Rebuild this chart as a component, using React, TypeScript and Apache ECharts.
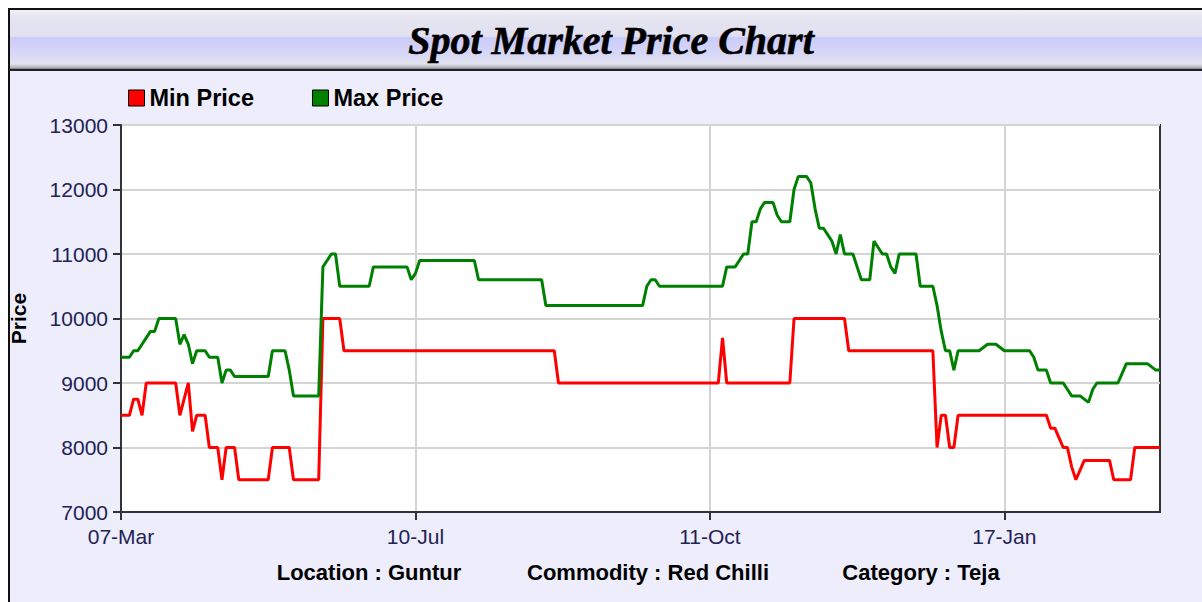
import React, { useEffect, useRef } from "react";
import * as echarts from "echarts";

// X-axis tick labels, one every LABEL_STEP trading days
const tickLabels = ["07-Mar", "10-Jul", "11-Oct", "17-Jan"];
const LABEL_STEP = 70;

// Min price, as runs of [price, number of days]
const minPriceRuns: [number, number][] = [
  [8500, 3], [8750, 2], [8500, 1], [9000, 8], [8500, 1], [8750, 1], [9000, 1], [8250, 1],
  [8500, 3], [8000, 3], [7500, 1], [8000, 3], [7500, 8], [8000, 5], [7500, 7],
  [10000, 5], [9500, 51], [9000, 39], [9700, 1], [9000, 16], [10000, 13], [9500, 21],
  [8000, 1], [8500, 2], [8000, 2], [8500, 22], [8300, 2], [8150, 1], [8000, 2],
  [7700, 1], [7500, 1], [7650, 1], [7800, 7], [7500, 5], [8000, 7],
];

// Max price, as runs of [price, number of days]
const maxPriceRuns: [number, number][] = [
  [9400, 3], [9500, 2], [9600, 1], [9700, 1], [9800, 2], [10000, 5], [9600, 1], [9750, 1],
  [9600, 1], [9300, 1], [9500, 3], [9400, 3], [9000, 1], [9200, 2], [9100, 9], [9500, 4],
  [9200, 1], [8800, 7], [10800, 1], [10900, 1], [11000, 2], [10500, 8], [10800, 9],
  [10600, 1], [10700, 1], [10900, 14], [10600, 16], [10200, 24], [10500, 1], [10600, 2],
  [10500, 16], [10800, 3], [10900, 1], [11000, 2], [11500, 2], [11700, 1], [11800, 3],
  [11600, 1], [11500, 3], [12000, 1], [12200, 3], [12100, 1], [11700, 1], [11400, 2],
  [11300, 1], [11200, 1], [11000, 1], [11300, 1], [11000, 3], [10800, 1], [10600, 3],
  [11200, 1], [11100, 1], [11000, 2], [10800, 1], [10700, 1], [11000, 5], [10500, 4],
  [10200, 1], [9800, 1], [9500, 2], [9200, 1], [9500, 6], [9550, 1], [9600, 3], [9550, 1],
  [9500, 7], [9400, 1], [9200, 3], [9000, 4], [8900, 1], [8800, 3], [8750, 1], [8700, 1],
  [8900, 1], [9000, 6], [9150, 1], [9300, 6], [9250, 1], [9200, 2],
];

const footerTexts = ["Location : Guntur", "Commodity : Red Chilli", "Category : Teja"];

const expand = (runs: [number, number][]) => runs.flatMap(([v, n]) => Array(n).fill(v));
const minPrice = expand(minPriceRuns);
const maxPrice = expand(maxPriceRuns);
const days = minPrice.map((_, i) => String(i));

export default function App() {
  const ref = useRef<HTMLDivElement>(null);
  useEffect(() => {
    if (!ref.current) return;
    const chart = echarts.init(ref.current, null, { renderer: "svg" });
    const sans = '"Liberation Sans", Arial, sans-serif';
    chart.setOption({
      animation: false,
      backgroundColor: "#ffffff",
      textStyle: { fontFamily: sans },
      graphic: [
        { type: "rect", z: -20, shape: { x: 9, y: 9, width: 1193, height: 593 }, style: { fill: "#EDEDFB" } },
        {
          type: "rect", z: -19, shape: { x: 10, y: 10, width: 1192, height: 60 },
          style: {
            fill: new echarts.graphic.LinearGradient(0, 0, 0, 1, [
              { offset: 0, color: "#F0F0F6" },
              { offset: 0.1, color: "#E6E6F0" },
              { offset: 0.44, color: "#E0E0F0" },
              { offset: 0.46, color: "#CBCBFA" },
              { offset: 0.75, color: "#D8D8F6" },
              { offset: 0.9, color: "#E2E2EE" },
              { offset: 0.96, color: "#B0B0B8" },
              { offset: 1, color: "#505058" },
            ]),
          },
        },
        { type: "line", z: -18, shape: { x1: 9, y1: 70, x2: 1202, y2: 70 }, style: { stroke: "#222", lineWidth: 2 } },
        { type: "line", z: -18, shape: { x1: 9, y1: 8, x2: 9, y2: 602 }, style: { stroke: "#111", lineWidth: 2 } },
        { type: "line", z: -18, shape: { x1: 8, y1: 9, x2: 1202, y2: 9 }, style: { stroke: "#111", lineWidth: 2 } },
        {
          type: "text", z: 5, x: 611, y: 40,
          style: {
            text: "Spot Market Price Chart", textAlign: "center", textVerticalAlign: "middle",
            font: 'italic bold 40px "Liberation Serif", "Times New Roman", serif', fill: "#000",
            stroke: "#000", lineWidth: 0.6,
          },
        },
        ...footerTexts.map((t, i) => ({
          type: "text", z: 5, x: [369, 648, 921][i], y: 572,
          style: {
            text: t, textAlign: "center", textVerticalAlign: "middle",
            font: `bold 22px ${sans}`, fill: "#000",
          },
        })),
      ],
      legend: {
        left: 123, top: 81, itemWidth: 16, itemHeight: 16, itemGap: 58,
        icon: "rect",
        textStyle: { fontSize: 23.5, fontWeight: "bold", color: "#000", fontFamily: sans, lineHeight: 24 },
        data: [
          { name: "Min Price", itemStyle: { borderColor: "#000", borderWidth: 1 } },
          { name: "Max Price", itemStyle: { borderColor: "#000", borderWidth: 1 } },
        ],
      },
      grid: {
        left: 118, top: 125, right: 42, bottom: 90, show: true,
        backgroundColor: "#ffffff", borderColor: "#333", borderWidth: 2,
      },
      xAxis: {
        type: "category", data: days, boundaryGap: false,
        axisLine: { lineStyle: { color: "#333", width: 2 } },
        axisTick: { interval: LABEL_STEP - 1, length: 8, lineStyle: { color: "#333", width: 2 } },
        axisLabel: {
          interval: LABEL_STEP - 1, margin: 14, fontSize: 21, color: "#222255", fontFamily: sans,
          formatter: (_v: string, idx: number) => (idx % LABEL_STEP === 0 ? tickLabels[idx / LABEL_STEP] ?? "" : ""),
        },
        splitLine: { show: true, interval: LABEL_STEP - 1, lineStyle: { color: "#D4D4D4", width: 2 } },
      },
      yAxis: {
        type: "value", min: 7000, max: 13000, interval: 1000,
        name: "Price", nameLocation: "middle", nameGap: 92,
        nameTextStyle: { fontSize: 21, fontWeight: "bold", color: "#000", fontFamily: sans },
        axisLine: { show: true, lineStyle: { color: "#333", width: 2 } },
        axisTick: { show: true, length: 8, lineStyle: { color: "#333", width: 2 } },
        axisLabel: {
          fontSize: 21, color: "#222255", margin: 13, fontFamily: sans,
          formatter: (v: number) => String(v),
        },
        splitLine: { show: true, lineStyle: { color: "#D4D4D4", width: 2 } },
      },
      series: [
        {
          name: "Min Price", type: "line", data: minPrice, showSymbol: false,
          itemStyle: { color: "#FF0000" }, lineStyle: { color: "#FF0000", width: 3 },
        },
        {
          name: "Max Price", type: "line", data: maxPrice, showSymbol: false,
          itemStyle: { color: "#008000" }, lineStyle: { color: "#008000", width: 3 },
        },
      ],
    });
    return () => chart.dispose();
  }, []);
  return (
    <div
      ref={ref}
      style={{ position: "fixed", left: 0, top: 0, width: 1202, height: 602 }}
    />
  );
}
